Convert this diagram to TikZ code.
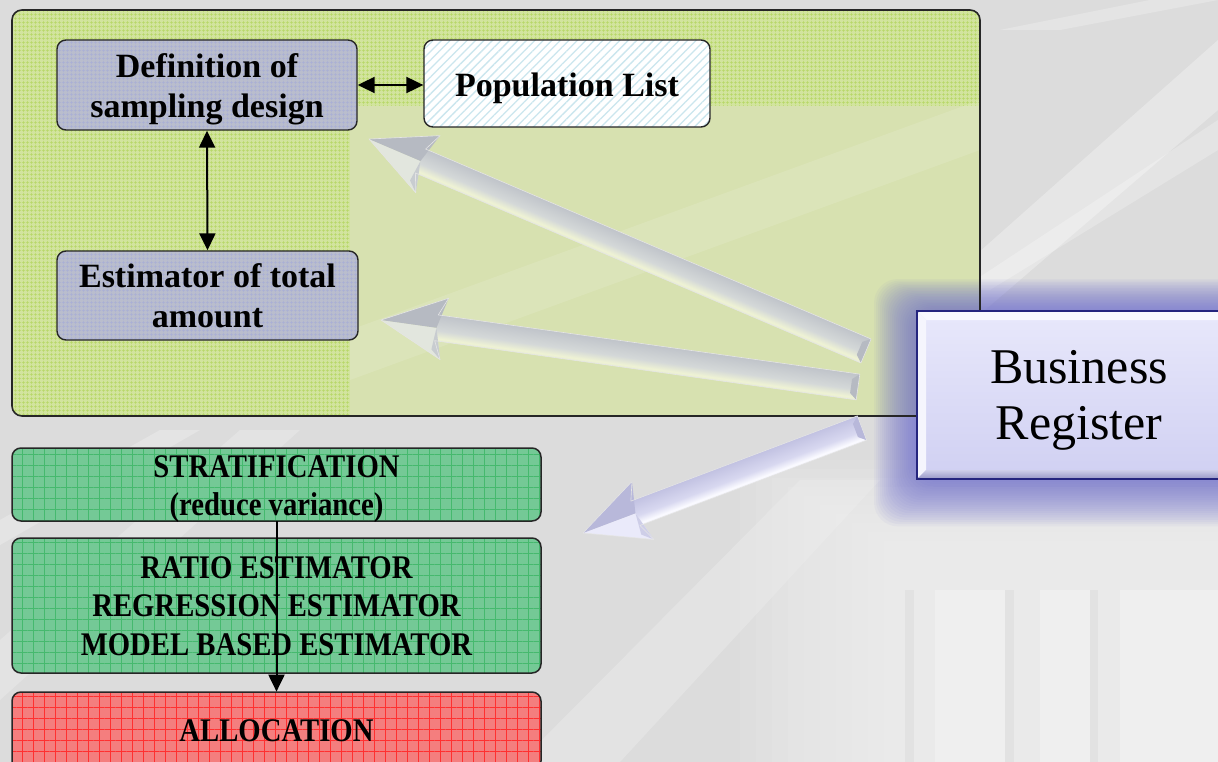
\documentclass[tikz,border=0pt]{standalone}
\usepackage{fontspec}
\setmainfont{Liberation Serif}
\newfontfamily\condfont[FakeStretch=0.87]{Liberation Serif}
\usetikzlibrary{arrows.meta,patterns.meta,calc}

% palette
\definecolor{bgbase}{HTML}{DCDCDC}
\definecolor{panelgreen}{HTML}{D2E49E}
\definecolor{panelgrid}{HTML}{B6D764}
\definecolor{panelpale}{HTML}{D7E1B0}
\definecolor{boxgray}{HTML}{B9BDCD}
\definecolor{boxgrid}{HTML}{A9AFD6}
\definecolor{poplines}{HTML}{CBE6EE}
\definecolor{stratgreen}{HTML}{74C996}
\definecolor{stratgrid}{HTML}{45B96E}
\definecolor{allocred}{HTML}{F47E7E}
\definecolor{allocgrid}{HTML}{FF3030}
\definecolor{regnavy}{HTML}{25257E}
\definecolor{regtop}{HTML}{E8E8FB}
\definecolor{regbot}{HTML}{D0D0F2}
\definecolor{glowblue}{HTML}{6A6AD0}

% silver arrow colours (over the green panel)
\definecolor{sgA}{HTML}{C8CCD0}
\definecolor{sgB}{HTML}{DEE2DC}
\definecolor{sgC}{HTML}{EEF2D4}
\definecolor{sgD}{HTML}{D4D8D8}
\definecolor{sgE}{HTML}{C0C4CA}
\definecolor{sgF}{HTML}{A8ACB6}
\definecolor{sgLight}{HTML}{E2E6DE}
\definecolor{sgDark}{HTML}{B6BAC2}
% lavender arrow colours (over the grey background)
\definecolor{slA}{HTML}{CECEE8}
\definecolor{slB}{HTML}{E4E4F8}
\definecolor{slC}{HTML}{FAFAFF}
\definecolor{slD}{HTML}{D8D8F0}
\definecolor{slE}{HTML}{C2C2E2}
\definecolor{slF}{HTML}{AAAAD0}
\definecolor{slLight}{HTML}{EAEAFA}
\definecolor{slDark}{HTML}{B8B8DA}

\pgfdeclareverticalshading{shaftgreen}{100bp}{color(0bp)=(sgF); color(25bp)=(sgE); color(55bp)=(sgD); color(70bp)=(sgC); color(88bp)=(sgB); color(100bp)=(sgA)}
\pgfdeclareverticalshading{shaftlav}{100bp}{color(0bp)=(slF); color(25bp)=(slE); color(55bp)=(slD); color(70bp)=(slC); color(88bp)=(slB); color(100bp)=(slA)}

% thick bevelled arrow from coordinate #1 (tail) to coordinate #2 (tip)
% #3 shaft shading, #4 colour prefix (sg / sl)
\newcommand\silverarrow[4]{%
  \pgfpointanchor{#1}{center}\pgfgetlastxy{\sax}{\say}%
  \pgfpointanchor{#2}{center}\pgfgetlastxy{\sbx}{\sby}%
  \pgfmathsetmacro\sang{atan2((\sby)-(\say),(\sbx)-(\sax))}%
  \pgfmathsetmacro\slen{veclen((\sbx)-(\sax),(\sby)-(\say))}%
  \begin{scope}[transform canvas={shift={(\sax,\say)},rotate=\sang},x=1pt,y=1pt]
    \shade[shading=#3] (0,-13) -- ({\slen-56},-13) -- ({\slen-56},13) -- (0,13) -- cycle;
    \fill[#4Dark] (0,-13) -- (7,-7) -- (7,7) -- (0,13) -- cycle;
    \fill[#4Light] ({\slen-56},0) -- ({\slen-64},31) -- (\slen,0) -- cycle;
    \fill[#4Dark] ({\slen-56},0) -- ({\slen-64},-31) -- (\slen,0) -- cycle;
    \fill[#4A] ({\slen-56},0) -- ({\slen-64},31) -- ({\slen-54},22) -- cycle;
    \draw[white!80!gray, line width=0.6pt, line join=round]
      (0,-13) -- ({\slen-56},-13) -- ({\slen-64},-31) -- (\slen,0)
      -- ({\slen-64},31) -- ({\slen-56},13) -- (0,13) -- cycle;
  \end{scope}}

\begin{document}
\begin{tikzpicture}[x=1pt,y=-1pt,
  upbox/.style={rounded corners=9pt, draw=black!85, line width=1.4pt,
    font=\bfseries\fontsize{34}{40}\selectfont, align=center, inner sep=0pt},
  graybox/.style={upbox, preaction={fill=boxgray},
    pattern={Hatch[distance=4pt,line width=0.5pt]}, pattern color=boxgrid},
  popbox/.style={upbox, preaction={fill=white},
    pattern={Lines[angle=45,distance=6pt,line width=1.3pt]}, pattern color=poplines},
  lowbox/.style={rounded corners=9pt, draw=black!85, line width=1.5pt,
    font=\condfont\bfseries\fontsize{33}{38.5}\selectfont, align=center, inner sep=0pt},
  stratbox/.style={lowbox, preaction={fill=stratgreen},
    pattern={Hatch[distance=11pt,line width=0.6pt]}, pattern color=stratgrid},
  allocbox/.style={lowbox, preaction={fill=allocred},
    pattern={Hatch[distance=11pt,line width=0.7pt]}, pattern color=allocgrid},
  regbox/.style={draw=regnavy, line width=2pt, top color=regtop, bottom color=regbot,
    font=\fontsize{50}{56}\selectfont, align=center, inner sep=0pt},
  link/.style={line width=2pt, black},
  tipend/.tip={Triangle[width=16pt,length=17pt]}
]
\useasboundingbox (0,0) rectangle (1218,762);
\clip (0,0) rectangle (1218,762);

% --- photographic backdrop: grey stone with light streaks and columns
\fill[bgbase] (0,0) rectangle (1218,762);
\fill[white, opacity=0.30] (880,340) -- (950,340) -- (1218,110) -- (1218,40) -- cycle;
\fill[white, opacity=0.25] (960,290) -- (990,290) -- (1218,150) -- (1218,120) -- cycle;
\fill[white, opacity=0.25] (1000,30) -- (1060,30) -- (1218,0) -- (1150,0) -- cycle;
\fill[white, opacity=0.20] (520,762) -- (620,762) -- (880,480) -- (800,480) -- cycle;
\fill[white, opacity=0.20] (0,640) -- (0,700) -- (300,430) -- (240,430) -- cycle;
\fill[white, opacity=0.25] (0,520) -- (0,545) -- (200,430) -- (160,430) -- cycle;
% brighter colonnade towards the lower right, faded in steps
\foreach \i in {0,...,9}
  \fill[white, opacity=0.07] ({740+16*\i},{460+9*\i}) rectangle (1218,762);
\fill[white, opacity=0.25] (935,590) rectangle (1005,762);
\fill[white, opacity=0.25] (1040,590) rectangle (1090,762);
\fill[white, opacity=0.25] (1120,590) rectangle (1218,762);
\fill[black, opacity=0.03] (1005,590) rectangle (1014,762);
\fill[black, opacity=0.03] (1090,590) rectangle (1098,762);
\fill[black, opacity=0.03] (905,590) rectangle (914,762);

% --- green panel behind the sampling design blocks
\fill[panelgreen, rounded corners=10pt] (12,10) rectangle (980,416);
\begin{scope}
  \clip[rounded corners=10pt] (12,10) rectangle (980,416);
  \fill[pattern={Hatch[distance=4pt,line width=0.5pt]}, pattern color=panelgrid]
    (12,10) rectangle (980,416);
  \fill[panelpale] (350,106) rectangle (980,416);
  \fill[white, opacity=0.12] (350,330) -- (350,380) -- (980,150) -- (980,100) -- cycle;
\end{scope}

% --- blue halo round the register box
\foreach \i in {1,...,22}
  \fill[glowblue, opacity=0.05, rounded corners=24pt]
    ({918-2*\i},{312-1.5*\i}) rectangle (1260,{478+2.2*\i});

\draw[black!85, line width=1.6pt, rounded corners=10pt] (12,10) rectangle (980,416);

% --- upper blocks
\node[graybox, minimum width=300pt, minimum height=90pt,
      text height=65pt, text depth=0pt] (def) at (207,85)
  {Definition of\\sampling design};
\node[popbox, minimum width=286pt, minimum height=87pt,
      text height=27pt, text depth=0pt] (pop) at (567,83.5)
  {Population List};
\node[graybox, minimum width=301pt, minimum height=89pt,
      text height=63pt, text depth=0pt] (est) at (207.5,295.5)
  {Estimator of total\\amount};

\draw[link, tipend-tipend] (def.east) -- (def.east -| pop.west);
\draw[link, tipend-tipend] (def.south) -- (est.north);

% --- register box
\node[regbox, minimum width=322pt, minimum height=166pt,
      text height=88pt, text depth=0pt] (br) at (1079,395)
  {Business\\Register};
\fill[white!70!regtop] (br.north west) -- (br.north east) -- ($(br.north east)+(-9,9)$)
  -- ($(br.north west)+(9,9)$) -- cycle;
\fill[white!55!regtop] (br.north west) -- ($(br.north west)+(9,9)$)
  -- ($(br.south west)+(9,-9)$) -- (br.south west) -- cycle;
\shade[top color=regbot!80!regnavy!60, bottom color=regbot!40!regnavy!70]
  (br.south west) -- ($(br.south west)+(9,-9)$) -- ($(br.south east)+(-9,-9)$)
  -- (br.south east) -- cycle;
\draw[regnavy, line width=2pt] (br.north west) rectangle (br.south east);

% --- thick arrows fanning out of the register
\coordinate (tail1) at (866,351);
\coordinate (tip1)  at (369,139);
\coordinate (tail2) at (858,387);
\coordinate (tip2)  at (381,320);
\coordinate (tail3) at (862,428);
\coordinate (tip3)  at (583,533);
\silverarrow{tail1}{tip1}{shaftgreen}{sg}
\silverarrow{tail2}{tip2}{shaftgreen}{sg}
\silverarrow{tail3}{tip3}{shaftlav}{sl}

% --- lower blocks
\node[stratbox, minimum width=529pt, minimum height=73pt,
      text height=62pt, text depth=0pt] (strat) at (276.5,484.5)
  {STRATIFICATION\\(reduce variance)};
\node[stratbox, minimum width=529pt, minimum height=135pt,
      text height=99pt, text depth=0pt] (ests) at (276.5,605.5)
  {RATIO ESTIMATOR\\REGRESSION ESTIMATOR\\MODEL BASED ESTIMATOR};
\node[allocbox, minimum width=529pt, minimum height=78pt,
      text height=20pt, text depth=0pt] (alloc) at (276.5,731)
  {ALLOCATION};

\draw[link, -tipend] (strat.south) -- (alloc.north);
\end{tikzpicture}
\end{document}
